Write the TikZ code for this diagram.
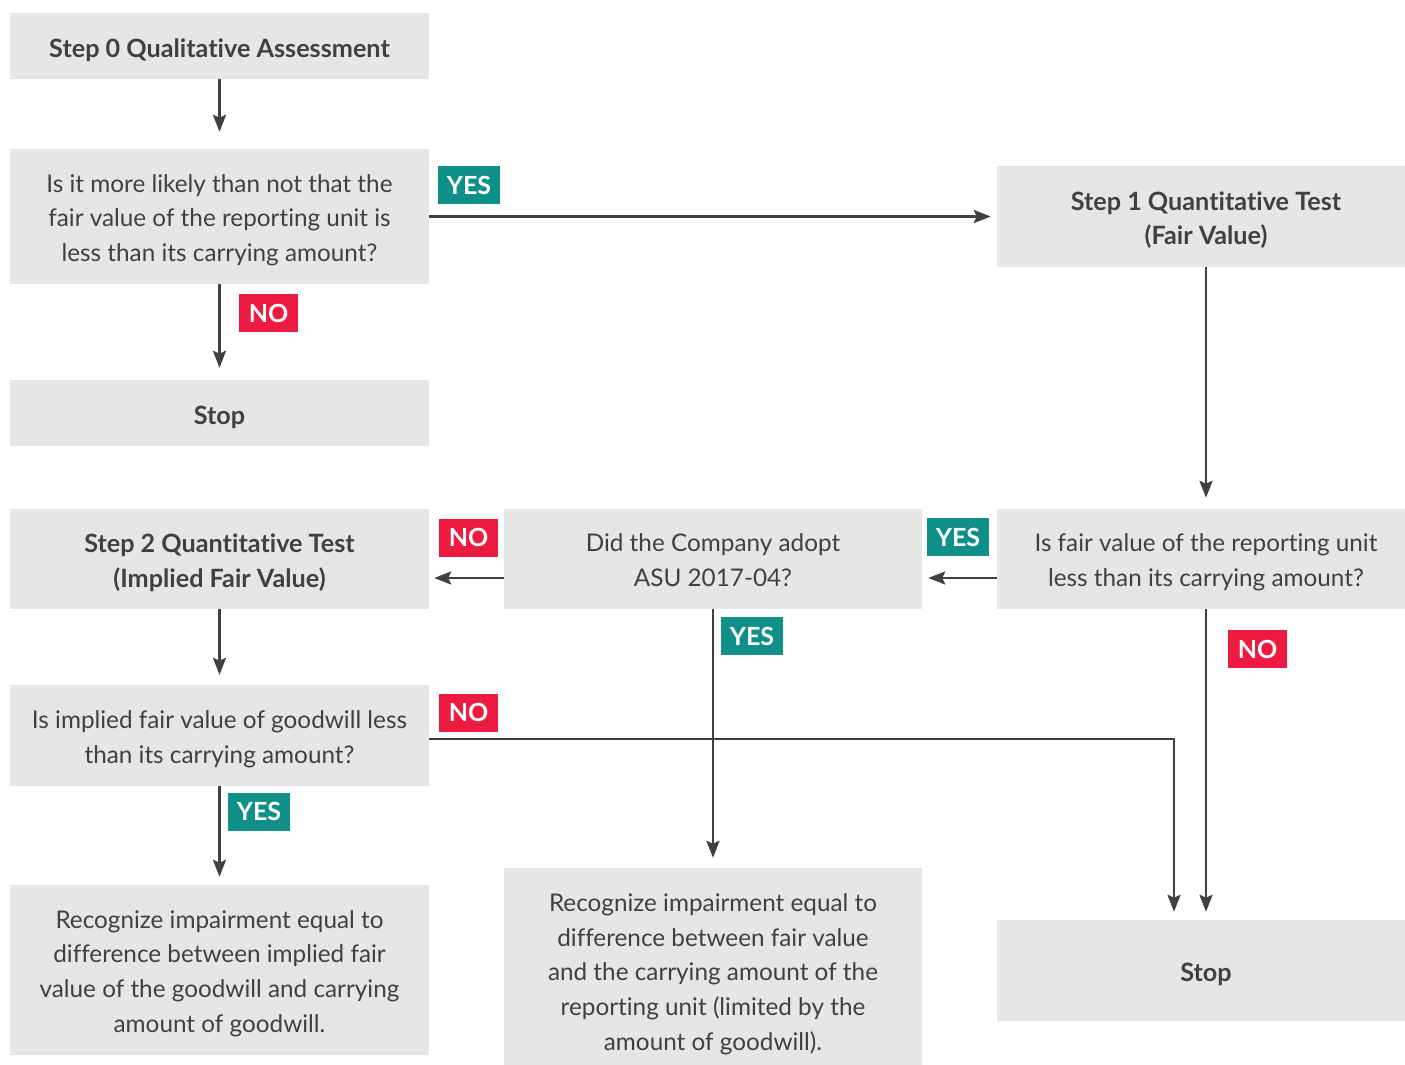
\documentclass[tikz,border=0pt]{standalone}
\usepackage{fontspec}
\setmainfont[Ligatures=NoCommon]{Lato}
\usetikzlibrary{arrows.meta}
\definecolor{boxgray}{HTML}{E6E6E6}
\definecolor{txt}{HTML}{404040}
\definecolor{yesc}{HTML}{0E9088}
\definecolor{noc}{HTML}{EE1B41}
\begin{document}
\begin{tikzpicture}[x=1pt,y=-1pt,
 box/.style={fill=boxgray, draw=none, inner sep=0pt},
 tx/.style={inner sep=0pt, text=txt, align=center, font=\fontsize{24.3}{34.7}\selectfont},
 btx/.style={tx, font=\fontsize{25.2}{34.7}\selectfont\bfseries},
 txt/.style={label={[tx, yshift=-3.5pt]center:{#1}}},
 btxt/.style={label={[btx, yshift=-3.5pt]center:{#1}}},
 arr/.style={draw=txt, line width=2.6pt, -{Stealth[length=17pt,width=13pt,inset=3pt]}},
 yes/.style={fill=yesc, text=white, font=\fontsize{25}{25}\selectfont\bfseries, minimum width=62pt, minimum height=38pt, inner sep=0pt},
 no/.style={yes, fill=noc, minimum width=59pt}]
\clip (0,0) rectangle (1405,1065);
\fill[white] (0,0) rectangle (1405,1065);

\node[box, minimum width=419pt, minimum height=66pt, label={[btx, yshift=-4pt]center:Step 0 Qualitative Assessment}] (step0) at (219.5,46) {};
\node[box, minimum width=419pt, minimum height=135pt, txt={Is it more likely than not that the\\fair value of the reporting unit is\\less than its carrying amount?}] (q1) at (219.5,216.5) {};
\node[box, minimum width=419pt, minimum height=66pt, label={[btx, yshift=-4pt]center:Stop}] (stop1) at (219.5,413) {};
\node[box, minimum width=418pt, minimum height=101pt, btxt={Step 1 Quantitative Test\\(Fair Value)}] (step1) at (1206,216.5) {};
\node[box, minimum width=418pt, minimum height=100pt, txt={Is fair value of the reporting unit\\less than its carrying amount?}] (q2) at (1206,559) {};
\node[box, minimum width=418pt, minimum height=100pt, label={[tx, yshift=-1pt]center:{Did the Company adopt\\ASU 2017-04?}}] (asu) at (713,559) {};
\node[box, minimum width=419pt, minimum height=100pt, btxt={Step 2 Quantitative Test\\(Implied Fair Value)}] (step2) at (219.5,559) {};
\node[box, minimum width=419pt, minimum height=101pt, txt={Is implied fair value of goodwill less\\than its carrying amount?}] (q3) at (219.5,735.5) {};
\node[box, minimum width=419pt, minimum height=170pt, txt={Recognize impairment equal to\\difference between implied fair\\value of the goodwill and carrying\\amount of goodwill.}] (recog1) at (219.5,970) {};
\node[box, minimum width=418pt, minimum height=197pt, label={[tx, yshift=-7.5pt]center:{Recognize impairment equal to\\difference between fair value\\and the carrying amount of the\\reporting unit (limited by the\\amount of goodwill).}}] (recog2) at (713,966.5) {};
\node[box, minimum width=418pt, minimum height=101pt, label={[btx, yshift=-4pt]center:Stop}] (stop2) at (1206,970.5) {};

\draw[arr, shorten >=17pt] (step0.south) -- (q1.north);
\draw[arr, shorten >=6pt] (q1.east) -- (q1.east -| step1.west);
\draw[arr, shorten >=12pt] (q1.south) -- (stop1.north);
\draw[arr, shorten >=11pt] (step1.south) -- (q2.north);
\draw[arr, shorten >=6pt] ([yshift=-19pt]q2.west) -- ([yshift=-19pt]asu.east);
\draw[arr, shorten >=5pt] ([yshift=-19pt]asu.west) -- ([yshift=-19pt]step2.east);
\draw[arr, shorten >=10pt] (asu.south) -- (recog2.north);
\draw[arr, shorten >=10pt] (step2.south) -- (q3.north);
\draw[arr, shorten >=8pt] (q3.south) -- (recog1.north);
\draw[arr, shorten >=8pt] ([yshift=-3.5pt]q3.east) -| ([xshift=-32pt]stop2.north);
\draw[arr, shorten >=8pt] (q2.south) -- (stop2.north);

\node[yes] (yes1) at (469,185) {YES};
\node[no] (no1) at (268.5,313) {NO};
\node[yes] (yes2) at (958,537) {YES};
\node[no] (no2) at (468.5,537.5) {NO};
\node[yes] (yes3) at (752,636) {YES};
\node[yes] (yes4) at (259,811.5) {YES};
\node[no] (no3) at (468.5,712.5) {NO};
\node[no] (no4) at (1257.5,649) {NO};
\end{tikzpicture}
\end{document}
